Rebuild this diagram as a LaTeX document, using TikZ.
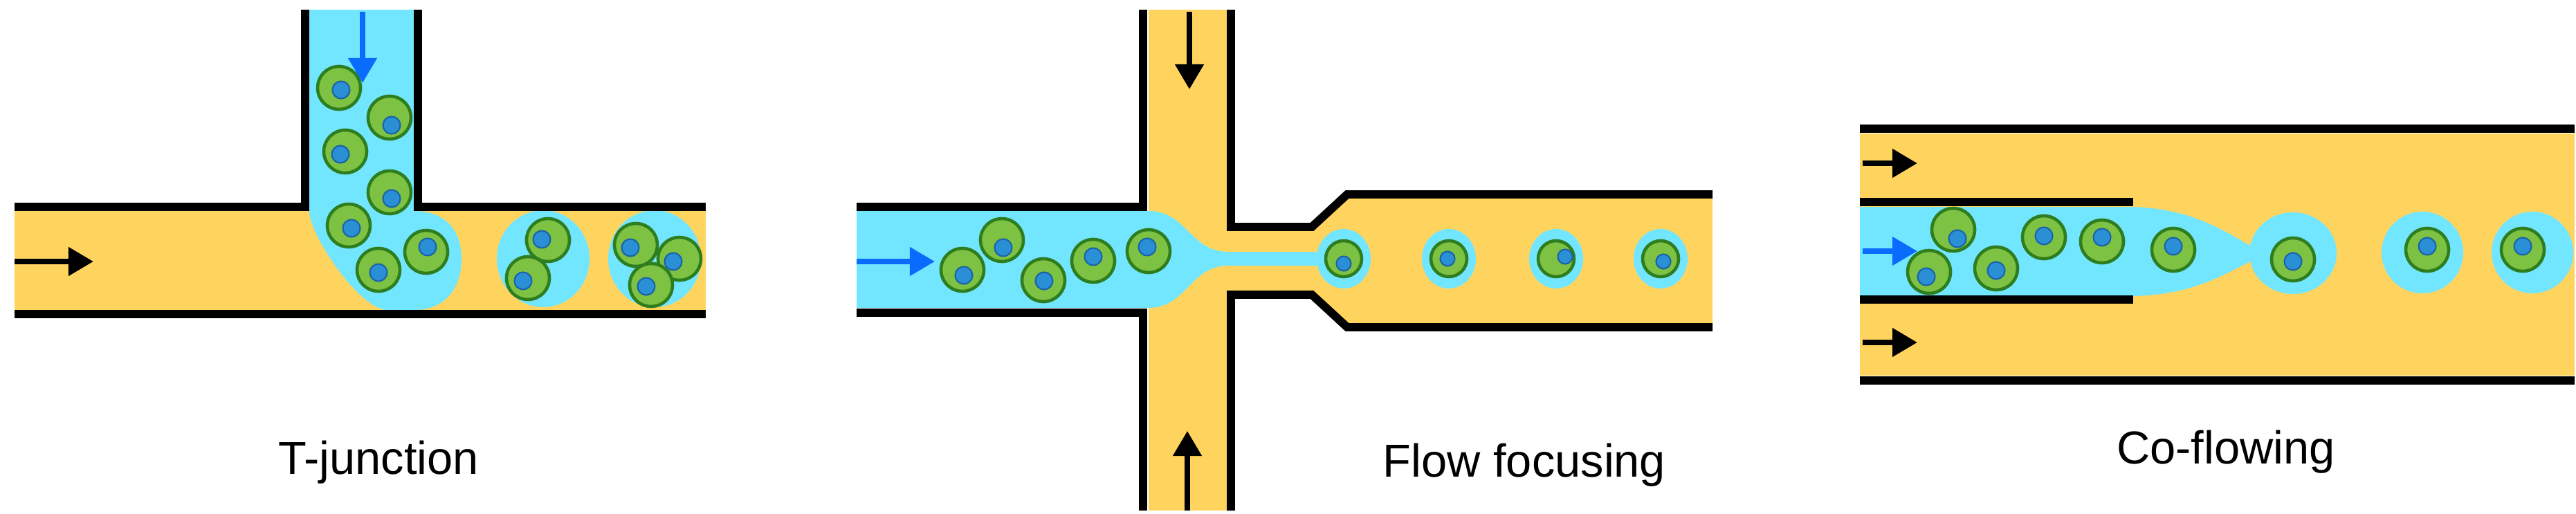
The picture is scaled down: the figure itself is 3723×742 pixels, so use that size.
\documentclass[tikz,border=0pt]{standalone}
\usepackage{fontspec}
\setmainfont{Liberation Sans}
\usetikzlibrary{arrows.meta, shapes.geometric}

\definecolor{oil}{HTML}{FFD45E}
\definecolor{water}{HTML}{73E6FF}
\definecolor{cellgreen}{HTML}{7DC242}
\definecolor{celledge}{HTML}{2E7D1E}
\definecolor{nucblue}{HTML}{2B8FD6}
\definecolor{nucedge}{HTML}{1A63A8}
\definecolor{flowblue}{HTML}{0A6CFF}

\begin{document}
\begin{tikzpicture}[
            x=0.01cm, y=-0.01cm,
            wall/.style = {line width=3.4pt, black, line cap=butt},
            flow/.style = {line width=2.2pt, -{Triangle[length=0.36cm, width=0.4cm]}},
            drop/.style = {ellipse, fill=water, inner sep=0pt},
            cell/.style = {circle, draw=celledge, fill=cellgreen, line width=1.3pt, inner sep=0pt, minimum size=0.62cm},
            nuc/.style  = {circle, draw=nucedge, fill=nucblue, line width=0.6pt, inner sep=0pt, minimum size=0.25cm},
            caption/.style = {font=\fontsize{19}{22}\selectfont}
        ]
        \useasboundingbox (0,0) rectangle (3723,742);

        % T-junction
        \fill[oil] (21,305) rectangle (1020,448);
        \fill[water] (447,14) -- (598,14) -- (598,305)
            .. controls (650,305) and (667,340) .. (667,374)
            .. controls (667,420) and (640,448) .. (600,448) -- (560,448)
            .. controls (520,448) and (447,340) .. (447,305) -- cycle;
        \node[drop, minimum width=1.34cm, minimum height=1.40cm] (td1) at (785,374) {};
        \node[drop, minimum width=1.34cm, minimum height=1.40cm] (td2) at (946,374) {};
        \foreach \x/\y/\u/\v [count=\i] in {490/127/493/130, 563/170/566/181, 499/219/492/223,
                563/278/566/287, 504/326/508/330, 616/364/618/357, 547/390/547/394,
                792/347/783/346, 763/402/756/406, 919/354/911/358, 982/374/973/378, 941/412/934/414} {
            \node[cell] (tc\i) at (\x,\y) {};
            \node[nuc]  (tn\i) at (\u,\v) {};
        }
        \draw[wall] (21,299) -- (441,299) -- (441,14);
        \draw[wall] (604,14) -- (604,299) -- (1020,299);
        \draw[wall] (21,454) -- (1020,454);
        \coordinate (tin)  at (21,378);
        \coordinate (tinE) at (135,378);
        \coordinate (ttop) at (524,17);
        \coordinate (ttopS) at (524,120);
        \draw[flow] (tin) -- (tinE);
        \draw[flow, flowblue] (ttop) -- (ttopS);
        \node[caption] (tlabel) at (547,668) {T-junction};

        % Flow focusing
        \fill[oil] (1660,14) rectangle (1773,738);
        \fill[oil] (1773,334) -- (1896,334) -- (1947,287) -- (2475,287)
            -- (2475,467) -- (1947,467) -- (1896,420) -- (1773,420) -- cycle;
        \fill[water] (1238,305) -- (1660,305) .. controls (1715,305) and (1720,364) .. (1775,364)
            -- (1910,364) -- (1910,384) -- (1775,384)
            .. controls (1720,384) and (1715,445) .. (1660,445) -- (1238,445) -- cycle;
        \foreach \x [count=\i] in {1942, 2094, 2249, 2400} {
            \node[drop, minimum width=0.78cm, minimum height=0.86cm] (fd\i) at (\x,374) {};
        }
        \foreach \x/\y/\u/\v [count=\i] in {1391/390/1393/398, 1448/347/1450/358, 1508/405/1509/406,
                1580/377/1580/371, 1660/363/1658/357} {
            \node[cell] (fc\i) at (\x,\y) {};
            \node[nuc]  (fn\i) at (\u,\v) {};
        }
        \foreach \x/\u/\v [count=\i] in {1942/1942/381, 2094/2092/374, 2249/2262/371, 2400/2404/378} {
            \node[cell, minimum size=0.52cm] (fs\i) at (\x,374) {};
            \node[nuc, minimum size=0.21cm] (fsn\i) at (\u,\v) {};
        }
        \draw[wall] (1238,299) -- (1652,299) -- (1652,14);
        \draw[wall] (1238,452) -- (1652,452) -- (1652,738);
        \draw[wall] (1779,14) -- (1779,328) -- (1896,328) -- (1947,281) -- (2475,281);
        \draw[wall] (1779,738) -- (1779,426) -- (1896,426) -- (1947,473) -- (2475,473);
        \coordinate (fin)  at (1238,378);
        \coordinate (finE) at (1351,378);
        \coordinate (ftop) at (1719,17);
        \coordinate (ftopS) at (1719,129);
        \coordinate (fbot) at (1716,738);
        \coordinate (fbotN) at (1716,623);
        \draw[flow, flowblue] (fin) -- (finE);
        \draw[flow] (ftop) -- (ftopS);
        \draw[flow] (fbot) -- (fbotN);
        \node[caption] (flabel) at (2203,672) {Flow focusing};

        % Co-flowing
        \fill[oil] (2688,193) rectangle (3721,543);
        \fill[water] (2688,299) -- (3083,299) .. controls (3160,302) and (3200,325) .. (3252,355)
            -- (3252,378) .. controls (3200,405) and (3160,426) .. (3083,428) -- (2688,428) -- cycle;
        \node[drop, minimum width=1.26cm, minimum height=1.18cm] (cd1) at (3314,366) {};
        \node[drop, minimum width=1.18cm, minimum height=1.18cm] (cd2) at (3501,365) {};
        \node[drop, minimum width=1.18cm, minimum height=1.18cm] (cd3) at (3660,365) {};
        \foreach \x/\y/\u/\v [count=\i] in {2823/332/2829/345, 2788/393/2784/400, 2885/388/2885/391,
                2954/343/2954/341, 3038/349/3038/343, 3141/361/3141/356, 3314/375/3314/378,
                3508/361/3508/356, 3646/361/3646/356} {
            \node[cell] (cc\i) at (\x,\y) {};
            \node[nuc]  (cn\i) at (\u,\v) {};
        }
        \draw[wall] (2688,186) -- (3721,186);
        \draw[wall] (2688,550) -- (3721,550);
        \draw[wall] (2688,292) -- (3083,292);
        \draw[wall] (2688,433) -- (3083,433);
        \coordinate (cin1) at (2692,236);
        \coordinate (cin1E) at (2771,236);
        \coordinate (cin2) at (2692,363);
        \coordinate (cin2E) at (2771,363);
        \coordinate (cin3) at (2692,495);
        \coordinate (cin3E) at (2771,495);
        \draw[flow] (cin1) -- (cin1E);
        \draw[flow, flowblue] (cin2) -- (cin2E);
        \draw[flow] (cin3) -- (cin3E);
        \node[caption] (clabel) at (3217,653) {Co-flowing};
    \end{tikzpicture}
\end{document}
